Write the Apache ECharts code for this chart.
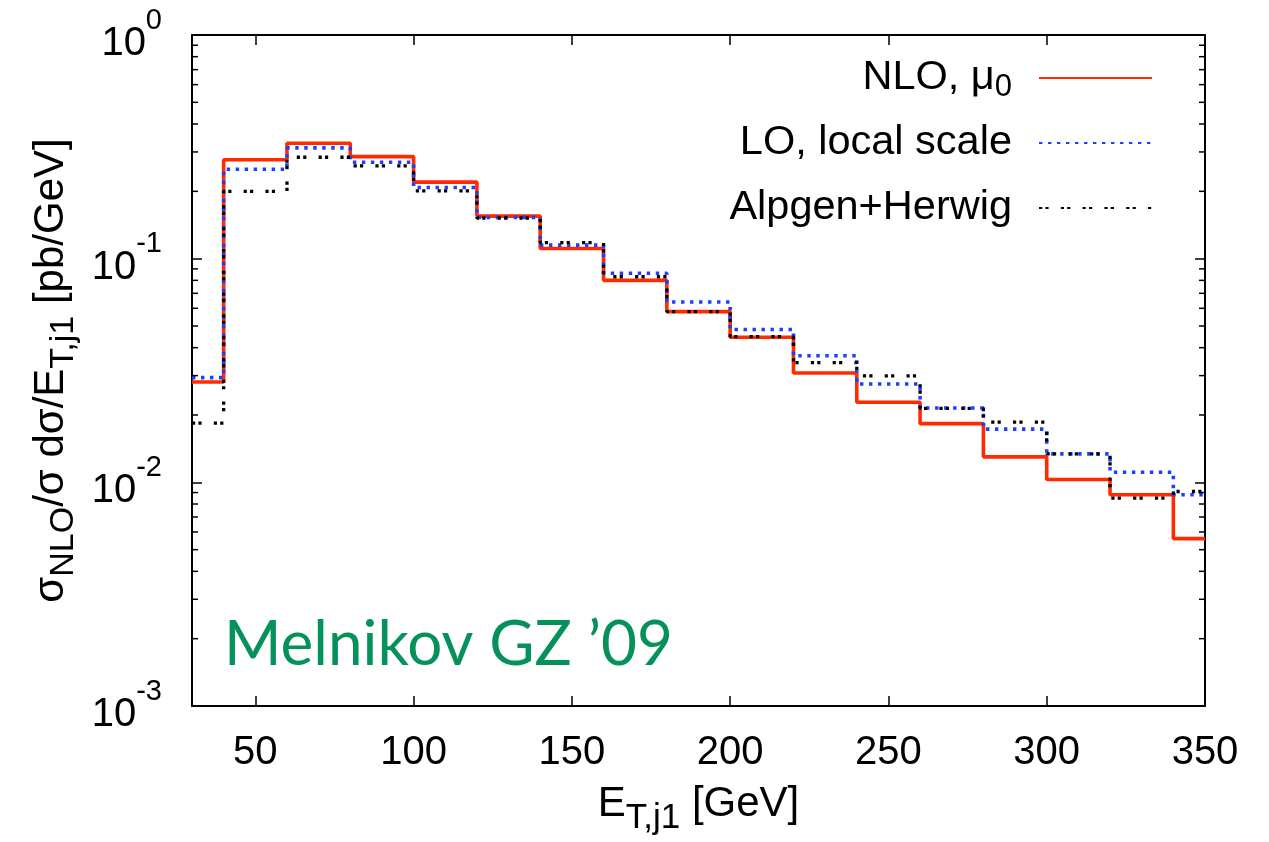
<!DOCTYPE html>
<html>
<head>
<meta charset="utf-8">
<script src="https://cdn.jsdelivr.net/npm/echarts@6/dist/echarts.min.js"></script>
<style>
  html, body { margin: 0; padding: 0; background: #fff; }
  #chart { width: 1269px; height: 842px; }
</style>
</head>
<body>
<div id="chart"></div>
<script>
// Leading-jet transverse energy distribution, per bin (pb/GeV, normalised)
const binEdges = [30, 40, 60, 80, 100, 120, 140, 160, 180, 200, 220, 240, 260, 280, 300, 320, 340, 350];
const nloMu0 = [0.0281, 0.277, 0.328, 0.286, 0.220, 0.155, 0.111, 0.080, 0.058, 0.0445, 0.0308, 0.0228, 0.0183, 0.0130, 0.0103, 0.0088, 0.0056];
const loLocalScale = [0.0294, 0.251, 0.313, 0.270, 0.208, 0.153, 0.115, 0.086, 0.064, 0.0482, 0.0368, 0.0275, 0.0215, 0.0173, 0.0134, 0.0111, 0.0088];
const alpgenHerwig = [0.0184, 0.200, 0.284, 0.260, 0.201, 0.152, 0.118, 0.083, 0.058, 0.0448, 0.0343, 0.0299, 0.0214, 0.0186, 0.0134, 0.0085, 0.0091];
const xTickValues = [50, 100, 150, 200, 250, 300, 350];
const seriesNames = ['NLO, μ0', 'LO, local scale', 'Alpgen+Herwig'];
const legendLabels = ['NLO, μ{sub|0}', 'LO, local scale', 'Alpgen+Herwig'];

const FONT = "'Liberation Sans', Arial, Helvetica, sans-serif";

// histogram outline: one point per left bin edge, plus the closing edge
function histogramPoints(values) {
  const pts = values.map((v, i) => [binEdges[i], v]);
  pts.push([binEdges[binEdges.length - 1], values[values.length - 1]]);
  return pts;
}

// minor log ticks (2..9 per decade)
const minorTicks = [];
for (let e = -3; e < 0; e++) {
  for (let m = 2; m <= 9; m++) minorTicks.push(m * Math.pow(10, e));
}

const chart = echarts.init(document.getElementById('chart'), null, { renderer: 'canvas' });

const axisLineStyle = { color: '#000', width: 2 };

const option = {
  backgroundColor: '#fff',
  animation: false,
  grid: { left: 192, right: 64, top: 35, bottom: 136, containLabel: false },
  legend: {
    data: seriesNames,
    orient: 'vertical',
    align: 'right',
    right: 116,
    top: 53,
    padding: 0,
    itemWidth: 113,
    itemHeight: 14,
    itemGap: 15,
    selectedMode: false,
    itemStyle: { opacity: 0 },
    formatter: name => legendLabels[seriesNames.indexOf(name)],
    textStyle: {
      fontFamily: FONT,
      fontSize: 41.5,
      color: '#000',
      lineHeight: 50,
      padding: [0, 22, 0, 0],
      rich: {
        sub: { fontFamily: FONT, fontSize: 31, color: '#000', verticalAlign: 'bottom', lineHeight: 50 }
      }
    }
  },
  xAxis: [
    {
      type: 'value',
      min: 30,
      max: 350,
      position: 'bottom',
      splitLine: { show: false },
      axisLine: { show: true, lineStyle: axisLineStyle },
      axisTick: { show: true, inside: true, length: 10, customValues: xTickValues, lineStyle: { color: '#000', width: 1.5 } },
      axisLabel: {
        show: true, customValues: xTickValues, margin: 27,
        fontFamily: FONT, fontSize: 40, color: '#000'
      },
      name: 'E{sub|T,j1} [GeV]',
      nameLocation: 'middle',
      nameGap: 72,
      nameTextStyle: {
        fontFamily: FONT, fontSize: 42, color: '#000', verticalAlign: 'top', lineHeight: 52,
        rich: { sub: { fontFamily: FONT, fontSize: 35, color: '#000', verticalAlign: 'bottom', lineHeight: 52, padding: [0, 0, -6, 0] } }
      }
    },
    {
      type: 'value',
      min: 30,
      max: 350,
      position: 'top',
      splitLine: { show: false },
      axisLine: { show: true, lineStyle: axisLineStyle },
      axisTick: { show: true, inside: true, length: 10, customValues: xTickValues, lineStyle: { color: '#000', width: 1.5 } },
      axisLabel: { show: false }
    }
  ],
  yAxis: [
    {
      type: 'log',
      logBase: 10,
      min: 0.001,
      max: 1,
      position: 'left',
      splitLine: { show: false },
      axisLine: { show: true, lineStyle: axisLineStyle },
      axisTick: { show: true, inside: true, length: 10, lineStyle: { color: '#000', width: 1.5 } },
      axisLabel: {
        show: true,
        margin: 30,
        formatter: v => '{b|10}{s|' + Math.round(Math.log10(v)) + '}',
        rich: {
          b: { fontFamily: FONT, fontSize: 40, color: '#000', verticalAlign: 'bottom', lineHeight: 58 },
          s: { fontFamily: FONT, fontSize: 29, color: '#000', verticalAlign: 'top', lineHeight: 58 }
        }
      },
      name: 'σ{sub|NLO}/σ dσ/E{sub|T,j1} [pb/GeV]',
      nameLocation: 'middle',
      nameRotate: 90,
      nameGap: 124,
      nameTextStyle: {
        fontFamily: FONT, fontSize: 42, color: '#000', verticalAlign: 'top', lineHeight: 50,
        rich: { sub: { fontFamily: FONT, fontSize: 34, color: '#000', verticalAlign: 'bottom', lineHeight: 50, padding: [0, 0, -4, 0] } }
      }
    },
    {
      type: 'log',
      logBase: 10,
      min: 0.001,
      max: 1,
      position: 'right',
      splitLine: { show: false },
      axisLine: { show: true, lineStyle: axisLineStyle },
      axisTick: { show: true, inside: true, length: 10, lineStyle: { color: '#000', width: 1.5 } },
      axisLabel: { show: false }
    }
  ],
  graphic: [
    {
      type: 'text',
      left: 224,
      top: 614,
      z: 100,
      style: {
        text: 'Melnikov GZ ’09',
        fontFamily: "Lato, 'Open Sans', sans-serif",
        fontSize: 62,
        fill: '#04925a'
      }
    }
  ],
  series: [
    {
      name: seriesNames[0],
      type: 'line',
      step: 'end',
      symbol: 'none',
      data: histogramPoints(nloMu0),
      lineStyle: { color: '#ff2a00', width: 3.6, type: 'solid' },
      itemStyle: { color: '#ff2a00' },
      z: 2
    },
    {
      name: seriesNames[1],
      type: 'line',
      step: 'end',
      symbol: 'none',
      data: histogramPoints(loLocalScale),
      lineStyle: { color: '#1a40ff', width: 3.6, type: [3.4, 5.6] },
      itemStyle: { color: '#1a40ff' },
      z: 3
    },
    {
      name: seriesNames[2],
      type: 'line',
      step: 'end',
      symbol: 'none',
      data: histogramPoints(alpgenHerwig),
      lineStyle: { color: '#000', width: 3.3, type: [3.2, 3.2, 3.2, 12.2] },
      itemStyle: { color: '#000' },
      z: 4
    },
    {
      type: 'custom',
      coordinateSystem: 'cartesian2d',
      silent: true,
      clip: false,
      z: 6,
      data: minorTicks.map(v => [30, v]),
      renderItem: (params, api) => {
        const v = api.value(1);
        const l = api.coord([30, v]);
        const r = api.coord([350, v]);
        return {
          type: 'group',
          children: [
            { type: 'line', shape: { x1: l[0], y1: l[1], x2: l[0] + 6, y2: l[1] }, style: { stroke: '#000', lineWidth: 1.5 } },
            { type: 'line', shape: { x1: r[0], y1: r[1], x2: r[0] - 6, y2: r[1] }, style: { stroke: '#000', lineWidth: 1.5 } }
          ]
        };
      }
    }
  ]
};

chart.setOption(option);
</script>
</body>
</html>
